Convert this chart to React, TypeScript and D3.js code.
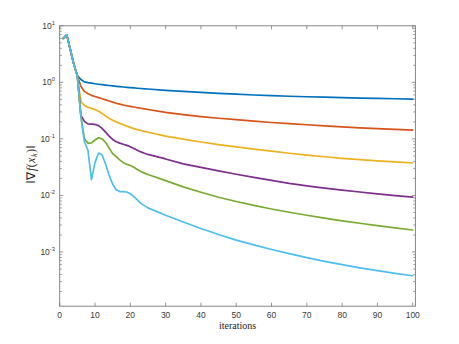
import React from "react";
import * as d3 from "d3";

const iterations = [
  1, 2, 3, 4, 5, 6, 7, 8, 9, 10, 11, 12, 13, 14, 15, 16, 17, 18, 19, 20, 21, 22, 23, 24, 25,
  30, 35, 40, 45, 50, 55, 60, 65, 70, 75, 80, 85, 90, 95, 100,
];

const series1 = [
  6.0, 6.9, 3.8, 2.1, 1.32, 1.12, 1.02, 0.989, 0.966, 0.944, 0.925, 0.908, 0.893, 0.879, 0.865,
  0.851, 0.839, 0.828, 0.817, 0.807, 0.796, 0.787, 0.778, 0.769, 0.762,
  0.724, 0.692, 0.664, 0.638, 0.617, 0.598, 0.582, 0.568, 0.556, 0.546, 0.536, 0.527, 0.52, 0.513, 0.507,
];
const series2 = [
  6.0, 6.9, 3.8, 2.1, 1.29, 0.851, 0.692, 0.631, 0.589, 0.562, 0.537, 0.513, 0.49, 0.468, 0.447,
  0.427, 0.412, 0.398, 0.385, 0.376, 0.366, 0.356, 0.348, 0.339, 0.331,
  0.295, 0.269, 0.248, 0.232, 0.219, 0.207, 0.195, 0.186, 0.178, 0.17, 0.163, 0.157, 0.152, 0.147, 0.143,
];
const series3 = [
  6.0, 6.9, 3.8, 2.1, 1.29, 0.457, 0.389, 0.363, 0.347, 0.331, 0.309, 0.282, 0.254, 0.232, 0.214,
  0.2, 0.188, 0.178, 0.168, 0.16, 0.152, 0.146, 0.141, 0.136, 0.131,
  0.112, 0.0989, 0.0881, 0.0794, 0.0721, 0.0661, 0.0607, 0.0558, 0.0518, 0.0483, 0.0454, 0.0431, 0.041, 0.0392, 0.0375,
];
const series4 = [
  6.0, 6.9, 3.8, 2.1, 1.29, 0.263, 0.204, 0.184, 0.182, 0.18, 0.172, 0.153, 0.132, 0.112, 0.0977,
  0.0891, 0.0841, 0.0804, 0.0767, 0.0724, 0.0676, 0.0631, 0.0589, 0.0556, 0.0531,
  0.0442, 0.0361, 0.0313, 0.0272, 0.0237, 0.0209, 0.0185, 0.0164, 0.0148, 0.0135, 0.0124, 0.0115, 0.0107, 0.00995, 0.00933,
];
const series5 = [
  6.0, 6.9, 3.8, 2.1, 1.29, 0.251, 0.1, 0.0841, 0.0851, 0.0955, 0.105, 0.1, 0.0871, 0.0692, 0.055,
  0.0484, 0.0427, 0.038, 0.0355, 0.0339, 0.0316, 0.0288, 0.0266, 0.0248, 0.0234,
  0.0183, 0.0142, 0.0114, 0.0093, 0.00782, 0.00667, 0.00575, 0.00504, 0.00446, 0.00397, 0.00356, 0.00322, 0.00292, 0.00267, 0.00245,
];
const series6 = [
  6.0, 6.9, 3.8, 2.1, 1.29, 0.251, 0.0891, 0.0631, 0.0191, 0.038, 0.0562, 0.0525, 0.0355, 0.0229, 0.0158,
  0.0126, 0.0117, 0.0117, 0.0115, 0.0107, 0.00955, 0.00832, 0.00724, 0.00661, 0.00603,
  0.00447, 0.00339, 0.0026, 0.00204, 0.00162, 0.001334, 0.001109, 0.000933, 0.000794, 0.000684, 0.000596, 0.000525, 0.000468, 0.00042, 0.00038,
];

const allSeries = [series1, series2, series3, series4, series5, series6];
const seriesColors = ["#0072BD", "#D95319", "#EDB120", "#7E2F8E", "#77AC30", "#4DBEEE"];
const xTicks = [0, 10, 20, 30, 40, 50, 60, 70, 80, 90, 100];
const yTickExponents = [1, 0, -1, -2, -3];
const xLabel = "iterations";

export default function App() {
  const W = 459;
  const H = 344;
  const left = 59.7;
  const right = 415.4;
  const top = 25.8;
  const bottom = 306.2;

  const x = d3.scaleLinear().domain([0, 100.75]).range([left, right]);
  const y = d3.scaleLog().domain([1.1e-4, 10]).range([bottom, top]);

  const line = d3
    .line<[number, number]>()
    .x((d) => x(d[0]))
    .y((d) => y(d[1]))
    .curve(d3.curveLinear);

  const minorTicks = y.ticks().filter((v) => {
    const e = Math.log10(v);
    return Math.abs(e - Math.round(e)) > 1e-6;
  });

  const axisColor = "#7a7a7a";
  const textColor = "#3a3a3a";
  const sans = "'Liberation Sans', Arial, sans-serif";
  const serif = "'Liberation Serif', 'Times New Roman', serif";

  return (
    <svg
      width={W}
      height={H}
      viewBox={`0 0 ${W} ${H}`}
      style={{ position: "absolute", left: 0, top: 0, background: "#fff" }}
    >
      <rect x={0} y={0} width={W} height={H} fill="#fff" />
      <defs>
        <clipPath id="plotclip">
          <rect x={left} y={top} width={right - left} height={bottom - top} />
        </clipPath>
      </defs>

      <g clipPath="url(#plotclip)">
        {allSeries.map((s, i) => (
          <path
            key={i}
            d={line(iterations.map((it, j) => [it, s[j]] as [number, number])) || ""}
            fill="none"
            stroke={seriesColors[i]}
            strokeWidth={1.7}
            strokeLinejoin="round"
            strokeLinecap="round"
          />
        ))}
      </g>

      <rect
        x={left}
        y={top}
        width={right - left}
        height={bottom - top}
        fill="none"
        stroke={axisColor}
        strokeWidth={0.9}
      />

      {xTicks.map((t) => (
        <g key={"x" + t}>
          <line x1={x(t)} x2={x(t)} y1={bottom} y2={bottom - 3.5} stroke={axisColor} strokeWidth={0.8} />
          <line x1={x(t)} x2={x(t)} y1={top} y2={top + 3.5} stroke={axisColor} strokeWidth={0.8} />
          <text
            x={x(t)}
            y={318}
            textAnchor="middle"
            style={{ fontFamily: sans }}
            fontSize={8.5}
            fill={textColor}
          >
            {t}
          </text>
        </g>
      ))}

      {yTickExponents.map((e) => {
        const v = Math.pow(10, e);
        const yy = y(v);
        return (
          <g key={"y" + e}>
            <line x1={left} x2={left + 3.5} y1={yy} y2={yy} stroke={axisColor} strokeWidth={0.8} />
            <line x1={right} x2={right - 3.5} y1={yy} y2={yy} stroke={axisColor} strokeWidth={0.8} />
            <text
              x={55}
              y={yy + 3}
              textAnchor="end"
              style={{ fontFamily: sans }}
              fontSize={8.5}
              fill={textColor}
            >
              10
              <tspan dy={-4} fontSize={5.8}>
                {e}
              </tspan>
            </text>
          </g>
        );
      })}

      {minorTicks.map((v, i) => {
        const yy = y(v);
        if (yy < top || yy > bottom) return null;
        return (
          <g key={"m" + i}>
            <line x1={left} x2={left + 2.2} y1={yy} y2={yy} stroke={axisColor} strokeWidth={0.7} />
            <line x1={right} x2={right - 2.2} y1={yy} y2={yy} stroke={axisColor} strokeWidth={0.7} />
          </g>
        );
      })}

      <text
        x={(left + right) / 2}
        y={328.5}
        textAnchor="middle"
        style={{ fontFamily: serif }}
        fontSize={10}
        fill="#222"
      >
        {xLabel}
      </text>

      <text
        transform={`translate(35, ${(top + bottom) / 2 - 2}) rotate(-90)`}
        textAnchor="middle"
        style={{ fontFamily: serif, letterSpacing: "0.6px" }}
        fontSize={11.5}
        fill="#222"
      >
        {"\u2016\u2207"}
        <tspan fontStyle="italic">f</tspan>
        {"("}
        <tspan fontStyle="italic">x</tspan>
        <tspan fontStyle="italic" fontSize={8} dy={2}>
          k
        </tspan>
        <tspan dy={-2}>{")\u2016"}</tspan>
      </text>
    </svg>
  );
}
